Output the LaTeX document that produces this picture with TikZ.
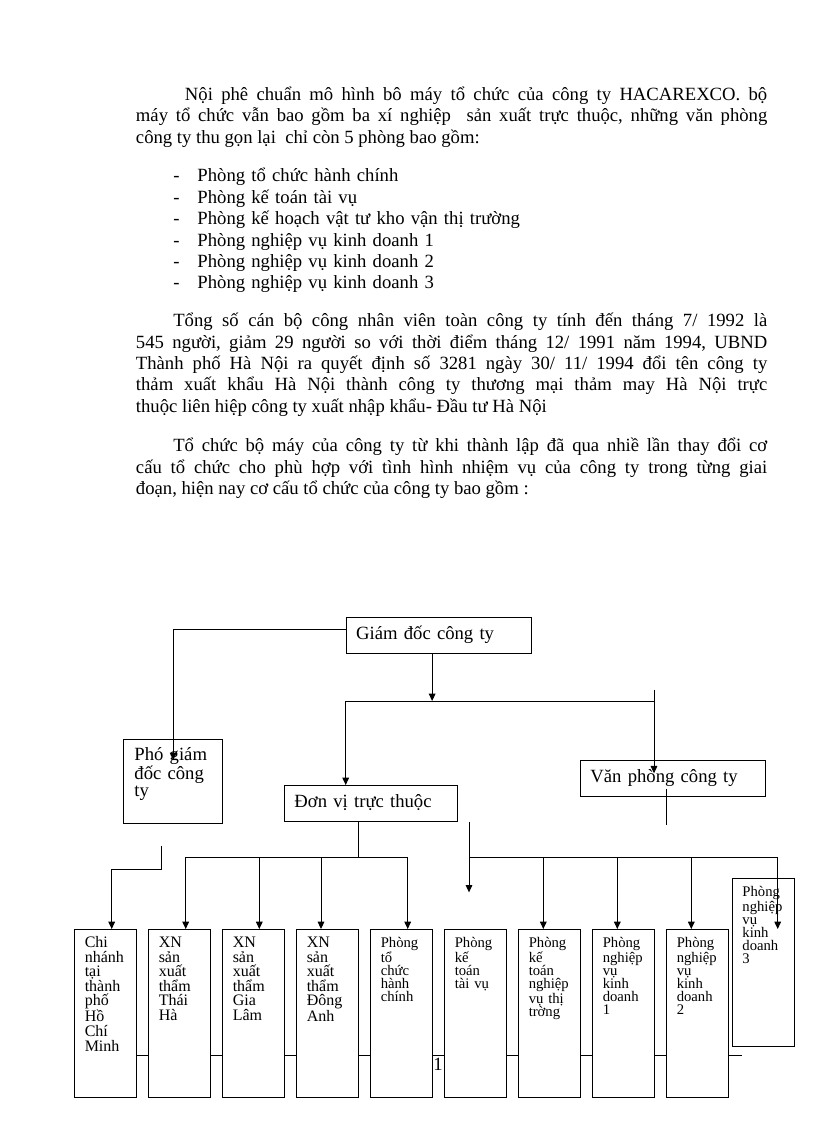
\documentclass[tikz,border=0pt]{standalone}
\usepackage{fontspec}
\setmainfont{Liberation Serif}
\usetikzlibrary{positioning}
\usetikzlibrary{arrows.meta}
\hyphenpenalty=10000
\exhyphenpenalty=10000
\tolerance=10000
\lineskiplimit=-50pt
\frenchspacing

\begin{document}
\begin{tikzpicture}[
            > = {Triangle[length=5.5pt, width=5pt]}, % arrow head style
            x = 0.75pt, y = -0.75pt, % one unit is one pixel of the page
            node distance = 55.5pt, % distance between the lower boxes
            line width = 0.7pt % line style
        ]

        \tikzstyle{para}=[anchor=base west, inner sep=0pt, text width=473.5pt, align=justify, font=\fontsize{14}{16}\selectfont]
        \tikzstyle{head}=[draw, fill=white, anchor=north west, inner xsep=7.5pt, inner ysep=2pt, minimum height=27pt, text height=9pt, text depth=3pt, align=left, font=\fontsize{14}{16}\selectfont]
        \tikzstyle{deputy}=[draw, fill=white, anchor=north west, text width=58.25pt, inner xsep=8pt, inner ysep=3.9pt, text height=12pt, text depth=42.7pt, align=left, font=\fontsize{14}{12.5}\selectfont]
        \tikzstyle{cell}=[draw, fill=white, anchor=north west, text width=31.5pt, inner xsep=7.5pt, inner ysep=3.5pt, text height=10pt, text depth=109pt, align=left]
        \tikzstyle{branch}=[cell, font=\fontsize{12}{10.9}\selectfont]
        \tikzstyle{office}=[cell, font=\fontsize{11}{9.75}\selectfont]

        \useasboundingbox (0,0) rectangle (816,1123);
        \fill[white] (0,0) rectangle (816,1123);

        % text above the chart
        \node[para] (intro) at (135.5,100.5) {\hspace*{36.75pt}Nội phê chuẩn mô hình bô máy tổ chức của công ty HACAREXCO. bộ\linebreak máy tổ chức vẫn bao gồm ba xí nghiệp\ \ sản xuất trực thuộc, những văn phòng\linebreak công ty thu gọn lại\ \ chỉ còn 5 phòng bao gồm:};
        \node[para, text width=400pt, align=left] (rooms) at (173,182) {\makebox[18pt][l]{-}Phòng tổ chức hành chính\\
            \makebox[18pt][l]{-}Phòng kế toán tài vụ\\
            \makebox[18pt][l]{-}Phòng kế hoạch vật tư kho vận thị trường\\
            \makebox[18pt][l]{-}Phòng nghiệp vụ kinh doanh 1\\
            \makebox[18pt][l]{-}Phòng nghiệp vụ kinh doanh 2\\
            \makebox[18pt][l]{-}Phòng nghiệp vụ kinh doanh 3};
        \node[para] (staff) at (135.5,326.8) {\hspace*{28pt}Tổng số cán bộ công nhân viên toàn công ty tính đến tháng 7/ 1992 là\linebreak 545 người, giảm 29 người so với thời điểm tháng 12/ 1991 năm 1994, UBND\linebreak Thành phố Hà Nội ra quyết định số 3281 ngày 30/ 11/ 1994 đổi tên công ty\linebreak thảm xuất khẩu Hà Nội thành công ty thương mại thảm may Hà Nội trực\linebreak thuộc liên hiệp công ty xuất nhập khẩu- Đầu tư Hà Nội};
        \node[para] (today) at (135.5,451.8) {\hspace*{28pt}Tổ chức bộ máy của công ty từ khi thành lập đã qua nhiề lần thay đổi cơ\linebreak cấu tổ chức cho phù hợp với tình hình nhiệm vụ của công ty trong từng giai\linebreak đoạn, hiện nay cơ cấu tổ chức của công ty bao gồm :};

        % footer rule and page number
        \draw (136,1055) -- (741.7,1055);
        \node[anchor=base west, inner sep=0pt, font=\fontsize{14}{16}\selectfont] (page) at (433,1070.5) {1};

        % upper boxes
        \node[head, text width=123.75pt] (gd) at (345.7,617.3) {Giám đốc công ty};
        \node[deputy] (pgd) at (123.3,739.3) {Phó giám\\đốc công\\ty};
        \node[head, text width=114.5pt] (dv) at (284,785) {Đơn vị trực thuộc};
        \node[head, text width=123.75pt] (vp) at (580,760) {Văn phòng công ty};

        % lower boxes
        \node[branch] (cn) at (74.3,929) {Chi\\nhánh\\tại\\thành\\phố\\Hồ\\Chí\\Minh};
        \node[branch] (xnth) [right of=cn] {XN\\sản\\xuất\\thẩm\\Thái\\Hà};
        \node[branch] (xngl) [right of=xnth] {XN\\sản\\xuất\\thẩm\\Gia\\Lâm};
        \node[branch] (xnda) [right of=xngl] {XN\\sản\\xuất\\thẩm\\Đông\\Anh};
        \node[office] (ptc) [right of=xnda] {Phòng\\tổ\\chức\\hành\\chính};
        \node[office] (pkt) [right of=ptc] {Phòng\\kế\\toán\\tài vụ};
        \node[office] (pkh) [right of=pkt] {Phòng\\kế\\toán\\nghiệp\\vụ thị\\trờng};
        \node[office] (pkd1) [right of=pkh] {Phòng\\nghiệp\\vụ\\kinh\\doanh\\1};
        \node[office] (pkd2) [right of=pkd1] {Phòng\\nghiệp\\vụ\\kinh\\doanh\\2};
        \node[office] (pkd3) at (732,878.3) {Phòng\\nghiệp\\vụ\\kinh\\doanh\\3};

        % giam doc to pho giam doc
        \draw[->] ([yshift=4.5pt]gd.west) -| ([yshift=-15.5pt]pgd.north);

        % giam doc down to the upper bus
        \coordinate (busL) at (345.7,701);
        \coordinate (busR) at (654,701);
        \coordinate (gdout) at ([xshift=-4.9pt]gd.south);
        \draw[->] (gdout) -- (gdout |- busL);
        \draw (busL) -- (busR);
        \draw[->] (busL) -- (busL |- dv.north);
        \coordinate (vpTop) at (654,690);
        \coordinate (vpIn) at (654,773.3);
        \draw[->] (vpTop) -- (vpIn);
        \draw ([xshift=-4.9pt,yshift=5.8pt]vp.south) -- ++(0,35.7);

        % don vi to the left bus
        \coordinate (dvout) at ([xshift=-9pt]dv.south);
        \coordinate (busA) at (185.7,857.3);
        \coordinate (busB) at (407.7,857.3);
        \draw (dvout) -- (dvout |- busA);
        \draw (busA) -- (busB);
        \draw[->] (busA) -- (busA |- xnth.north);
        \coordinate (j3) at (259.3,857.3);
        \draw[->] (j3) -- (j3 |- xngl.north);
        \coordinate (j4) at (321,857.3);
        \draw[->] (j4) -- (j4 |- xnda.north);
        \draw[->] (busB) -- (busB |- ptc.north);

        % the right bus
        \coordinate (busC) at (469,857.3);
        \coordinate (busD) at (777.7,857.3);
        \draw[->] (busC |- dv.south) -- ++(0,70.4);
        \draw (busC) -- (busD);
        \coordinate (j7) at (543.3,857.3);
        \draw[->] (j7) -- (j7 |- pkh.north);
        \coordinate (j8) at (617.3,857.3);
        \draw[->] (j8) -- (j8 |- pkd1.north);
        \coordinate (j9) at (691.3,857.3);
        \draw[->] (j9) -- (j9 |- pkd2.north);
        \draw[->] (busD) -- (busD |- pkd2.north);

        % pho giam doc to chi nhanh
        \coordinate (pgdout) at ([xshift=-9pt,yshift=-16.7pt]pgd.south);
        \coordinate (cnK) at (111.7,869.3);
        \draw[->] (pgdout) |- (cnK) -- (cnK |- cn.north);

  \end{tikzpicture}
\end{document}
